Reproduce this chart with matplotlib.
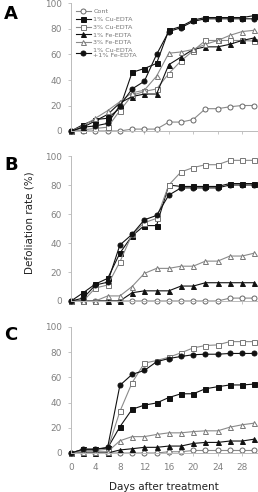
import matplotlib
matplotlib.use("Agg")
import matplotlib.pyplot as plt

days = [0, 2, 4, 6, 8, 10, 12, 14, 16, 18, 20, 22, 24, 26, 28, 30]
labels = ["Cont", "1% Cu-EDTA", "3% Cu-EDTA", "1% Fe-EDTA", "3% Fe-EDTA",
          "1% Cu-EDTA\n+1% Fe-EDTA"]
xticks = [0, 4, 8, 12, 16, 20, 24, 28]
yticks = [0, 20, 40, 60, 80, 100]

# Panel A
a_cont = [0, 0, 0, 0, 0, 1.5, 1.5, 1.5, 7, 7, 9, 17.5, 17.5, 19, 20, 20]
a_cu1 = [0, 5, 9, 10, 18, 46, 49, 53, 79, 82, 87, 89, 89, 89, 89, 90.5]
a_cu3 = [0, 1, 2, 3, 16, 28, 31, 33, 45, 55, 63, 71, 71, 71, 71, 70.5]
a_fe1 = [0, 3, 8, 13, 22, 27, 29, 29, 52, 58, 64, 66, 66, 68, 71, 73]
a_fe3 = [0, 4, 10, 16, 23, 30, 32, 43, 61, 62, 64, 68, 71, 75, 78, 79]
a_cufe = [0, 3, 4, 6, 20, 33, 39, 60, 78, 81, 86, 88, 88, 88, 88, 88]

# Panel B
b_cont = [0, 0, 0, 0, 0, 0, 0, 0, 0, 0, 0, 0, 0, 2, 2, 2]
b_cu1 = [0, 5.7, 11.7, 15.6, 33, 45, 52, 52, 80, 79, 79, 79, 79, 81, 81, 81]
b_cu3 = [0, 0, 9, 11, 27, 46, 54, 57, 80, 89, 92, 94, 94, 97, 97, 97]
b_fe1 = [0, 0, 0, 0, 0, 5.7, 7, 7, 7, 10.3, 10.3, 12.6, 12.6, 12.6, 12.6, 12.6]
b_fe3 = [0, 0, 0, 3.5, 3.5, 10, 19, 22.5, 22.5, 24, 24, 27.5, 27.5, 31, 31, 33]
b_cufe = [0, 2, 11, 13, 38.6, 46, 56, 59, 73, 78, 78, 78, 78, 80, 80, 80]

# Panel C
c_cont = [0, 0, 0, 0, 0, 0, 0, 0, 1, 1, 2, 2, 2, 2, 2, 2]
c_cu1 = [0, 3, 3, 4, 20.8, 34.7, 38, 39.7, 44, 47, 47, 51, 52.6, 54, 54, 54.7]
c_cu3 = [0, 2, 2, 3, 33, 55.8, 71.3, 73.4, 76, 79.5, 83.4, 85.3, 85.8, 88.4, 88.4, 88.4]
c_fe1 = [0, 0, 0, 0, 2.4, 3.4, 4.5, 4.5, 5.5, 5.5, 7.6, 8.4, 8.4, 9.5, 9.5, 11]
c_fe3 = [0, 1, 1, 1, 9.7, 13, 13, 14.7, 16, 16, 17, 17.6, 17.6, 20.5, 22.4, 23.7]
c_cufe = [0, 3, 3, 4.5, 53.7, 62.4, 65.5, 72.4, 75, 76.6, 78, 78.4, 78.4, 79, 79, 79]

panels = [
    ("A", [a_cont, a_cu1, a_cu3, a_fe1, a_fe3, a_cufe]),
    ("B", [b_cont, b_cu1, b_cu3, b_fe1, b_fe3, b_cufe]),
    ("C", [c_cont, c_cu1, c_cu3, c_fe1, c_fe3, c_cufe]),
]

GRAY = "#8a8a8a"
DARK = "#111111"
styles = [
    dict(color=GRAY, marker="o", mfc="white", mec="#666666"),
    dict(color=DARK, marker="s", mfc=DARK, mec=DARK),
    dict(color=GRAY, marker="s", mfc="white", mec="#777777"),
    dict(color=DARK, marker="^", mfc=DARK, mec=DARK),
    dict(color=GRAY, marker="^", mfc="white", mec="#777777"),
    dict(color=DARK, marker="o", mfc=DARK, mec=DARK),
]

W, H = 258, 492
fig = plt.figure(figsize=(W / 100, H / 100), dpi=100)

# axes boxes in pixel coords: (left, y_of_value0, y_of_value100)
boxes = [(71, 131, 3.5), (71, 301, 156), (71, 453, 327)]
letter_y = [14, 165, 335]
right = 258

axes = []
for (name, series), (l, y0, y100), ly in zip(panels, boxes, letter_y):
    ax = fig.add_axes([l / W, 1 - y0 / H, (right - l) / W, (y0 - y100) / H])
    axes.append(ax)
    for s, lab, st in zip(series, labels, styles):
        ax.plot(days, s, lw=0.8, ms=3.6, mew=0.7, clip_on=False, label=lab, **st)
    ax.set_xlim(0, 30.6)
    ax.set_ylim(0, 100)
    ax.set_yticks(yticks)
    ax.set_xticks(xticks)
    for sp in ["top", "right"]:
        ax.spines[sp].set_visible(False)
    for sp in ["left", "bottom"]:
        ax.spines[sp].set_color("#bbbbbb")
        ax.spines[sp].set_linewidth(0.7)
    ax.tick_params(axis="y", length=2, width=0.6, color="#bbbbbb", pad=4.5,
                   labelsize=6.4, labelcolor="#808080")
    ax.tick_params(axis="x", length=2.5, width=0.6, color="#bbbbbb", pad=5,
                   labelsize=6.4, labelcolor="#808080", direction="out")
    if name != "C":
        ax.tick_params(axis="x", labelbottom=False)
    fig.text(4 / W, 1 - ly / H, name, fontsize=13, fontweight="bold",
             ha="left", va="center", color="black")

leg = axes[0].legend(loc="upper left", bbox_to_anchor=(76 / W, 1 - 9 / H),
                     bbox_transform=fig.transFigure, frameon=False,
                     fontsize=4.6, handlelength=2.3, handletextpad=0.4,
                     labelspacing=0.35, borderpad=0, borderaxespad=0)
for t in leg.get_texts():
    t.set_color("#777777")

fig.text(30 / W, 1 - 223 / H, "Defoliation rate (%)", rotation=90,
         fontsize=7.5, ha="center", va="center", color="#222222")
fig.text(164 / W, 1 - 487 / H, "Days after treatment", fontsize=7.5,
         ha="center", va="center", color="#222222")

fig.savefig("out.png", dpi=100)
